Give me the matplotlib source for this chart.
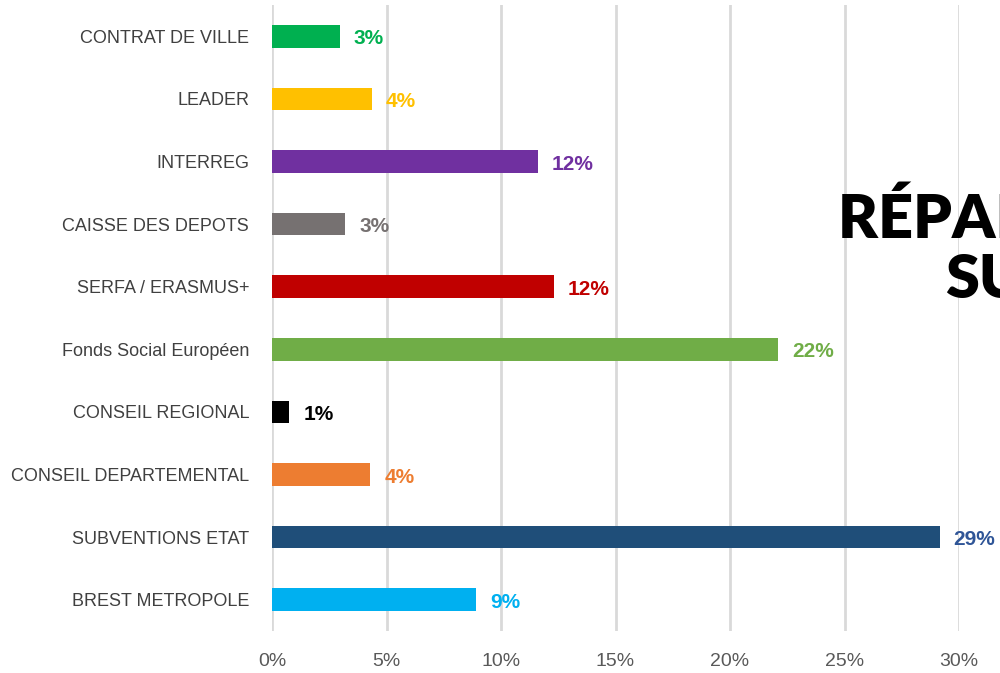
import matplotlib.pyplot as plt

# categories from bottom to top
categories = ['BREST METROPOLE', 'SUBVENTIONS ETAT', 'CONSEIL DEPARTEMENTAL',
              'CONSEIL REGIONAL', 'Fonds Social Européen', 'SERFA / ERASMUS+',
              'CAISSE DES DEPOTS', 'INTERREG', 'LEADER', 'CONTRAT DE VILLE']
shares = [8.9, 29.15, 4.3, 0.75, 22.1, 12.3, 3.2, 11.6, 4.35, 2.95]
labels = ['9%', '29%', '4%', '1%', '22%', '12%', '3%', '12%', '4%', '3%']
colors = ['#00b0f0', '#1f4e79', '#ed7d31', '#000000', '#70ad47',
          '#c00000', '#767171', '#7030a0', '#ffc000', '#00b050']
label_colors = ['#00b0f0', '#2f5597', '#ed7d31', '#000000', '#70ad47',
                '#c00000', '#767171', '#7030a0', '#ffc000', '#00b050']
xticks = [0, 5, 10, 15, 20, 25, 30]

fig = plt.figure(figsize=(10, 6.73), dpi=100)
ax = fig.add_axes([0.272, 0.0624, 0.687, 0.930])

y = range(len(categories))
ax.barh(y, shares, height=0.36, color=colors, zorder=3)

for i, (v, lab) in enumerate(zip(shares, labels)):
    ax.text(v + 0.62, i - 0.04, lab, va='center', ha='left', fontsize=15,
            fontweight='bold', color=label_colors[i], family='Liberation Sans',
            clip_on=False)

ax.set_xlim(0, 30)
ax.set_ylim(-0.5, len(categories) - 0.5)
ax.set_xticks(xticks)
ax.set_xticklabels([f'{t}%' for t in xticks], fontsize=14, color='#595959',
                   family='Liberation Sans')
ax.set_yticks(list(y))
ax.set_yticklabels(categories, fontsize=13, color='#404040', family='Liberation Sans')
ax.tick_params(length=0)
ax.tick_params(axis='x', pad=16)
ax.tick_params(axis='y', pad=16.5)
for s in ax.spines.values():
    s.set_visible(False)
ax.grid(axis='x', color='#d9d9d9', linewidth=2, zorder=0)
ax.set_axisbelow(True)

# title overlay, cut off by the right edge of the picture (as in the original)
fig.text(0.838, 0.647, 'RÉPARTITION DES', fontsize=44, fontweight='heavy',
         family='Lato', color='black', ha='left', va='baseline')
fig.text(0.945, 0.557, 'SUBVENTIONS', fontsize=44, fontweight='heavy',
         family='Lato', color='black', ha='left', va='baseline')

fig.savefig('out.png', dpi=100)
